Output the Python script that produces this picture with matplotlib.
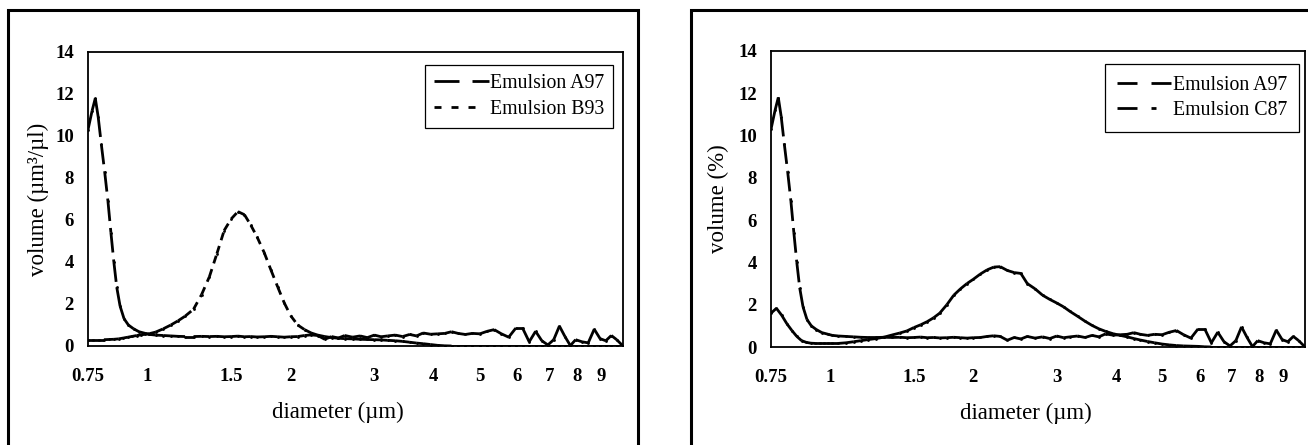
import matplotlib
matplotlib.use("Agg")
import matplotlib.pyplot as plt
from matplotlib.lines import Line2D
from matplotlib.ticker import NullLocator

plt.rcParams['font.family'] = ['Liberation Serif', 'DejaVu Serif']
plt.rcParams['lines.scale_dashes'] = False

# diameter grid (um) used by the measured curves
diam = [0.75, 0.77, 0.79, 0.81, 0.83, 0.85, 0.87, 0.89, 0.91, 0.93,
        0.95, 0.97, 0.99, 1.01, 1.04, 1.08, 1.12, 1.16, 1.2, 1.25,
        1.3, 1.35, 1.4, 1.45, 1.5, 1.55, 1.6, 1.65, 1.7, 1.76,
        1.82, 1.88, 1.94, 2.0, 2.07, 2.14, 2.21, 2.28, 2.36, 2.44,
        2.52, 2.6, 2.7, 2.8, 2.9, 3.0, 3.1, 3.2, 3.32, 3.44,
        3.56, 3.68, 3.8, 3.94, 4.08, 4.22, 4.36, 4.5, 4.66, 4.82,
        5.0, 5.18, 5.36, 5.55, 5.75, 5.95, 6.15, 6.35, 6.55, 6.75,
        6.95, 7.15, 7.35, 7.55, 7.75, 7.95, 8.2, 8.45, 8.7, 8.95,
        9.2, 9.45, 9.7, 10.0]

# emulsion A97 has a sharp peak at the small end, read finer there
a97_diam = [0.75, 0.765, 0.777, 0.788, 0.80, 0.813, 0.826, 0.838, 0.85, 0.862,
            0.876, 0.893, 0.912, 0.935, 0.96, 0.99, 1.01] + diam[14:]
a97 = [10.3, 11.2, 11.8, 10.9, 9.6, 8.3, 6.9, 5.4, 4.0, 2.8,
       1.9, 1.3, 1.0, 0.82, 0.68, 0.6, 0.55,
       0.52, 0.5, 0.48, 0.46, 0.45, 0.45, 0.46, 0.45, 0.46, 0.44,
       0.45, 0.47, 0.44, 0.45, 0.43, 0.44, 0.46, 0.44, 0.42, 0.44,
       0.45, 0.5, 0.53, 0.5, 0.32, 0.45, 0.38, 0.5, 0.42, 0.48,
       0.4, 0.52, 0.44, 0.48, 0.52, 0.45, 0.55, 0.48, 0.62, 0.56,
       0.58, 0.6, 0.68, 0.6, 0.55, 0.6, 0.58, 0.7, 0.78, 0.58,
       0.42, 0.85, 0.85, 0.2, 0.7, 0.25, 0.05, 0.3, 0.95, 0.45,
       0.02, 0.3, 0.2, 0.15, 0.8, 0.35, 0.25, 0.5, 0.3, 0.0]

b93 = [0.30, 0.30, 0.30, 0.30, 0.31, 0.32, 0.34, 0.38, 0.42, 0.46,
       0.5, 0.53, 0.56, 0.59, 0.66, 0.82, 1.0, 1.2, 1.42, 1.75,
       2.45, 3.3, 4.4, 5.5, 6.05, 6.4, 6.25, 5.75, 5.2, 4.45,
       3.6, 2.8, 2.05, 1.45, 1.0, 0.78, 0.62, 0.52, 0.45, 0.4,
       0.37, 0.35, 0.34, 0.32, 0.31, 0.3, 0.29, 0.27, 0.25, 0.22,
       0.18, 0.14, 0.11, 0.07, 0.03, 0.01, 0, 0, 0, 0,
       0, 0, 0, 0, 0, 0, 0, 0, 0, 0,
       0, 0, 0, 0, 0, 0, 0, 0, 0, 0,
       0, 0, 0, 0]

c87 = [1.6, 1.83, 1.5, 1.1, 0.78, 0.5, 0.3, 0.22, 0.18, 0.17,
       0.17, 0.17, 0.17, 0.17, 0.17, 0.2, 0.25, 0.3, 0.35, 0.4,
       0.47, 0.57, 0.66, 0.76, 0.92, 1.05, 1.2, 1.38, 1.6, 2.0,
       2.45, 2.75, 3.0, 3.2, 3.45, 3.65, 3.78, 3.8, 3.62, 3.52,
       3.48, 3.0, 2.75, 2.45, 2.25, 2.08, 1.9, 1.68, 1.45, 1.22,
       1.02, 0.86, 0.74, 0.63, 0.55, 0.48, 0.4, 0.33, 0.26, 0.2,
       0.14, 0.1, 0.07, 0.05, 0.04, 0.03, 0.01, 0, 0, 0,
       0, 0, 0, 0, 0, 0, 0, 0, 0, 0,
       0, 0, 0, 0]

xticks = [0.75, 1, 1.5, 2, 3, 4, 5, 6, 7, 8, 9]
xticklabels = ['0.75', '1', '1.5', '2', '3', '4', '5', '6', '7', '8', '9']
yticks = [0, 2, 4, 6, 8, 10, 12, 14]

W, H = 1308, 445


def p(v):
    # pixels -> points (dpi 100)
    return v * 0.72


# dash patterns; like the old spreadsheet the pattern restarts on every segment
A97_DASH = (p(20), p(7))
B93_DASH = (p(8), p(6))
C87_DASH = (p(20), p(10), p(5), p(10))


def draw_series(ax, x, y, dashes):
    for i in range(len(x) - 1):
        ax.plot(x[i:i + 2], y[i:i + 2], color='black', lw=2.0,
                dashes=dashes, dash_capstyle='butt', solid_capstyle='round')
    # round dots at the vertices keep the joins smooth
    ax.plot(x, y, ls='none', marker='o', ms=2.0, mew=0, color='black')


def setup_axes(ax, ylabel, xlab_x, ylab_x):
    ax.set_xscale('log')
    ax.set_xlim(0.75, 10)
    ax.set_ylim(0, 14)
    ax.set_xticks(xticks)
    ax.set_xticklabels(xticklabels)
    ax.xaxis.set_minor_locator(NullLocator())
    ax.set_yticks(yticks)
    ax.tick_params(length=0, labelsize=13.5)
    ax.tick_params(axis='x', pad=p(22))
    ax.tick_params(axis='y', pad=p(14))
    for lab in ax.get_xticklabels() + ax.get_yticklabels():
        lab.set_fontweight('bold')
    for s in ax.spines.values():
        s.set_linewidth(1.3)
    ax.set_xlabel('diameter (µm)', fontsize=16.5)
    ax.set_ylabel(ylabel, fontsize=16.5)
    ax.xaxis.label.set_va('center')
    ax.yaxis.label.set_va('center')
    ax.xaxis.set_label_coords(xlab_x, -(412 - 346) / 294)
    ax.yaxis.set_label_coords(ylab_x, 0.5)


def add_legend(ax, handles, labels, right_px, top_px, pad, spacing):
    leg = ax.legend(handles, labels, loc='upper right',
                    bbox_to_anchor=(right_px / W, 1 - top_px / H),
                    bbox_transform=ax.figure.transFigure,
                    fontsize=14.3, handlelength=2.75, handletextpad=0.05,
                    borderpad=pad, labelspacing=spacing, borderaxespad=0,
                    fancybox=False, framealpha=1, edgecolor='black')
    leg.get_frame().set_linewidth(0.9)


def frame(x0, x1, y0):
    fx0, fx1 = x0 / W, x1 / W
    fy0 = 1 - y0 / H
    line = Line2D([fx0, fx0, fx1, fx1], [-0.05, fy0, fy0, -0.05],
                  transform=fig.transFigure, color='black', lw=2.2,
                  solid_joinstyle='miter')
    fig.add_artist(line)


fig = plt.figure(figsize=(W / 100, H / 100), dpi=100)

ax1 = fig.add_axes([88 / W, (H - 346) / H, 535 / W, 294 / H])
ax2 = fig.add_axes([771 / W, (H - 347) / H, 534 / W, 296 / H])

draw_series(ax1, a97_diam, a97, A97_DASH)
draw_series(ax1, diam, b93, B93_DASH)
draw_series(ax2, a97_diam, a97, A97_DASH)
draw_series(ax2, diam, c87, C87_DASH)

setup_axes(ax1, 'volume (µm³/µl)', (338 - 88) / 535, (38 - 88) / 535)
setup_axes(ax2, 'volume (%)', (1026 - 771) / 534, (718 - 771) / 534)

# legend keys, patterns chosen so each key ends like the printed one
h_a97_l = Line2D([], [], color='black', lw=2.0, dashes=(p(25), p(13)))
h_b93 = Line2D([], [], color='black', lw=2.0,
               dashes=(p(7), p(10), p(7), p(10), p(7), p(25)))
h_a97_r = Line2D([], [], color='black', lw=2.0, dashes=(p(20), p(14)))
h_c87 = Line2D([], [], color='black', lw=2.0, dashes=(p(20), p(14), p(5), p(25)))
add_legend(ax1, [h_a97_l, h_b93], ['Emulsion A97', 'Emulsion B93'], 613, 65, 0.45, 0.35)
add_legend(ax2, [h_a97_r, h_c87], ['Emulsion A97', 'Emulsion C87'], 1299, 64, 0.6, 0.3)

frame(8, 638, 10)
frame(691, 1330, 10)

fig.savefig('out.png', dpi=100)
